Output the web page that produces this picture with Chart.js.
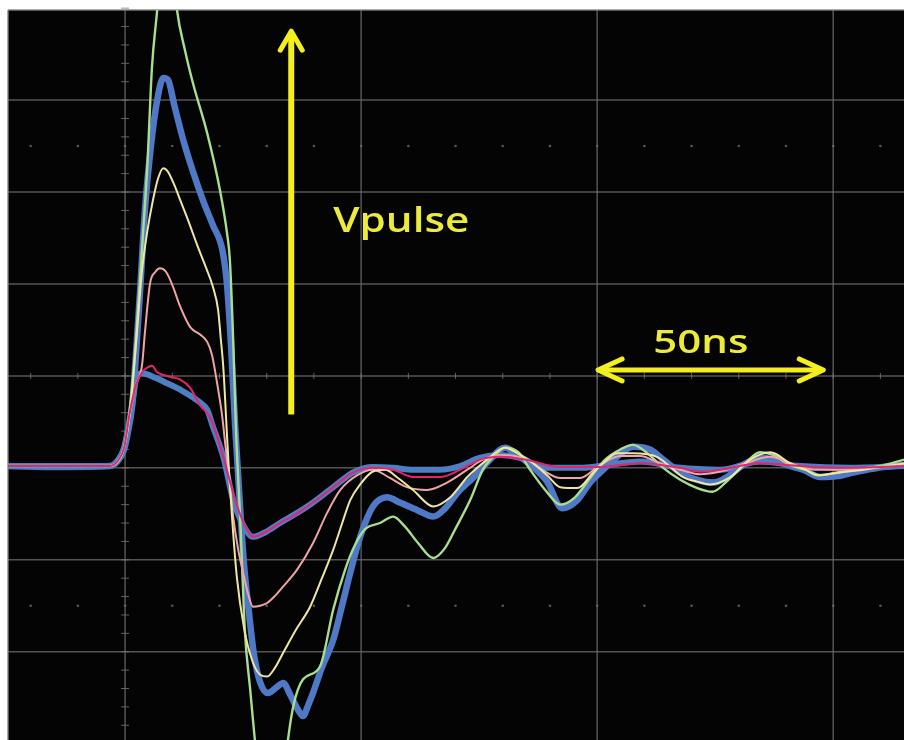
<!DOCTYPE html>
<html><head><meta charset="utf-8">
<script src="https://cdn.jsdelivr.net/npm/chart.js@4.4.1/dist/chart.umd.min.js"></script>
<style>html,body{margin:0;padding:0;background:#fff;}canvas{display:block;}</style>
</head><body>
<canvas id="c" width="904" height="740"></canvas>
<script>
// ---- Data: time in ns, amplitude in screen divisions ----
const bigBlueT = [-24.8,-13.8,-3.2,-1.5,-0.2,0.6,1.5,2.3,3.2,4.2,5.5,6.8,8.1,9.1,10.4,12.3,14.4,16.5,18.6,20.6,21.6,22.5,23.3,24.2,25.2,26.3,27.3,28.6,30.3,32.0,33.5,35.0,36.4,37.7,38.8,39.8,41.7,44.1,46.0,47.7,49.8,52.5,55.5,58.3,61.9,65.3,67.8,70.6,73.7,77.3,80.5,83.1,86.4,89.4,92.6,95.8,98.5,101.3,104.2,107.6,111.2,114.0,117.6,121.2,124.6,127.5,130.9,134.5,137.3,140.3,143.6,147.3,150.9,154.2,157.2,160.6,165.0];
const bigBlueV = [-0.98,-0.99,-0.98,-0.92,-0.80,-0.61,-0.32,0.23,0.94,1.80,2.51,3.00,3.24,3.22,2.95,2.57,2.22,1.91,1.64,1.37,0.99,0.28,-0.53,-1.29,-2.05,-2.60,-3.03,-3.33,-3.45,-3.39,-3.34,-3.47,-3.61,-3.70,-3.58,-3.45,-3.17,-2.87,-2.49,-2.14,-1.75,-1.42,-1.32,-1.38,-1.46,-1.53,-1.44,-1.26,-1.11,-0.91,-0.78,-0.86,-0.99,-1.15,-1.44,-1.35,-1.16,-1.02,-0.88,-0.77,-0.80,-0.91,-1.05,-1.13,-1.16,-1.10,-0.97,-0.89,-0.91,-0.97,-1.02,-1.10,-1.09,-1.05,-1.02,-0.99,-0.97];

const smallBlueT = [-24.8,-3.2,-1.5,-0.2,0.6,1.5,2.5,3.6,6.4,8.9,11.7,15.9,17.4,18.6,20.8,22.9,25.0,27.1,29.7,32.8,38.6,44.1,48.3,52.5,56.8,61.0,66.7,71.0,75.2,79.4,83.7,89.0,96.4,100.6,109.1,117.6,126.1,134.5,143.0,153.6,165.0];
const smallBlueV = [-0.98,-0.98,-0.92,-0.78,-0.59,-0.32,0.00,0.03,-0.02,-0.08,-0.15,-0.29,-0.37,-0.55,-0.88,-1.35,-1.62,-1.75,-1.70,-1.60,-1.42,-1.21,-1.05,-0.99,-1.00,-1.02,-1.02,-0.98,-0.89,-0.86,-0.89,-1.00,-1.00,-0.98,-0.93,-1.00,-1.02,-0.93,-0.98,-1.00,-0.98];

const greenT = [-24.8,-3.2,-1.5,-0.2,1.1,2.3,3.8,4.7,5.7,6.8,7.8,8.9,10.0,11.0,12.7,14.4,17.4,20.1,21.6,22.2,22.9,23.5,24.4,25.4,26.5,27.5,29.0,31.1,33.3,34.5,35.6,37.7,41.3,44.1,46.6,48.7,50.8,54.0,56.8,59.3,62.1,65.3,67.8,69.9,73.1,75.8,78.4,80.5,83.3,85.8,89.0,92.2,95.3,98.5,101.7,104.9,107.6,110.6,114.0,117.6,121.2,124.4,127.8,131.4,134.5,137.3,140.9,144.1,147.2,150.8,154.7,160.0,165.0];
const greenV = [-0.98,-0.98,-0.93,-0.77,-0.32,0.39,1.55,2.27,3.36,3.98,4.63,4.96,4.52,3.98,3.54,3.18,2.64,2.02,1.55,1.26,0.39,-0.59,-1.57,-2.79,-3.41,-3.96,-4.61,-5.04,-4.50,-3.96,-3.60,-3.30,-3.16,-2.54,-2.11,-1.84,-1.67,-1.60,-1.53,-1.64,-1.82,-1.98,-1.87,-1.67,-1.35,-1.02,-0.86,-0.78,-0.83,-1.02,-1.24,-1.40,-1.32,-1.11,-0.91,-0.80,-0.75,-0.84,-1.00,-1.13,-1.22,-1.26,-1.13,-0.95,-0.83,-0.86,-0.97,-1.02,-1.08,-1.05,-1.02,-0.98,-0.91];

const yellowT = [-24.8,-3.2,-1.5,-0.2,1.1,2.3,3.6,4.7,5.9,7.0,8.1,9.1,10.4,11.7,13.3,15.3,16.9,18.6,19.7,20.3,20.8,21.2,21.6,22.0,22.7,23.7,25.2,26.9,28.6,30.1,31.8,33.5,36.2,39.2,41.7,44.1,46.0,47.7,49.8,52.5,55.1,57.8,61.0,65.3,68.9,72.5,76.7,80.5,83.7,86.4,89.4,92.2,95.8,99.2,101.7,104.2,107.6,112.7,115.5,118.2,121.2,123.9,128.2,132.4,136.7,140.9,144.1,146.6,151.5,156.4,165.0];
const yellowV = [-0.98,-0.98,-0.92,-0.78,-0.37,0.34,1.15,1.57,1.91,2.15,2.26,2.22,2.08,1.91,1.70,1.42,1.21,0.97,0.72,0.39,0.10,-0.26,-0.66,-1.02,-1.57,-2.20,-2.74,-3.09,-3.25,-3.27,-3.17,-3.01,-2.76,-2.51,-2.20,-1.89,-1.60,-1.35,-1.18,-1.04,-1.02,-1.11,-1.24,-1.42,-1.32,-1.10,-0.91,-0.78,-0.86,-0.95,-1.08,-1.21,-1.22,-1.05,-0.93,-0.84,-0.84,-0.88,-0.99,-1.10,-1.15,-1.18,-1.10,-0.91,-0.83,-0.95,-1.02,-1.08,-1.05,-1.02,-0.95];

const pinkT = [-24.8,-3.2,-1.5,-0.2,1.1,2.3,3.6,4.2,5.3,6.4,7.4,8.7,10.0,11.7,13.8,15.9,17.4,18.4,19.5,20.6,21.2,21.8,22.9,23.9,25.0,26.1,27.1,28.6,30.1,31.8,33.5,36.4,39.8,42.8,45.6,49.2,52.5,56.1,59.7,64.0,68.2,72.5,75.8,79.4,82.6,85.8,89.0,92.2,96.4,100.6,104.9,109.1,113.3,117.6,121.8,126.1,131.4,136.7,140.9,146.2,151.5,160.0,165.0];
const pinkV = [-0.98,-0.98,-0.92,-0.78,-0.39,-0.10,0.12,0.47,1.01,1.13,1.17,1.13,0.99,0.75,0.53,0.45,0.37,0.23,-0.08,-0.45,-0.73,-0.99,-1.53,-1.87,-2.14,-2.38,-2.51,-2.50,-2.47,-2.39,-2.29,-2.11,-1.82,-1.49,-1.24,-1.08,-1.02,-1.11,-1.21,-1.24,-1.16,-1.02,-0.91,-0.86,-0.87,-0.93,-1.04,-1.11,-1.11,-0.97,-0.87,-0.87,-0.95,-1.02,-1.07,-1.04,-0.95,-0.88,-0.95,-1.02,-1.02,-0.99,-0.97];

const magentaT = [-24.8,-3.2,-1.5,-0.2,1.1,2.3,3.6,4.7,5.7,6.8,8.1,9.5,11.7,13.8,15.9,18.0,19.5,21.2,22.7,24.4,25.8,27.1,29.7,32.8,36.0,38.6,41.3,44.1,48.3,52.5,56.8,61.0,66.7,71.0,75.2,79.4,84.7,92.2,100.6,109.1,117.6,121.8,126.1,134.5,143.0,153.6,165.0];
const magentaV = [-0.98,-0.98,-0.92,-0.78,-0.37,-0.10,0.04,0.09,0.11,0.04,0.01,-0.01,-0.04,-0.13,-0.32,-0.45,-0.66,-0.95,-1.24,-1.51,-1.67,-1.75,-1.70,-1.60,-1.51,-1.42,-1.32,-1.21,-1.05,-1.00,-1.02,-1.10,-1.10,-1.02,-0.91,-0.88,-0.91,-0.99,-0.99,-0.95,-1.00,-1.04,-1.02,-0.95,-0.98,-1.00,-0.98];

// ---- Axis frame (ns / divisions) ----
const timeMin = -24.8, timeMax = 165.0;
const divMin = -3.96, divMax = 3.98;
const majorTimes = [0, 50, 100, 150];
const majorDivs = [-3, -2, -1, 0, 1, 2, 3];
const dottedRows = [-2.5, 2.5];

// ---- Annotations (in data units) ----
const pulseArrow = {t: 35.2, from: -0.42, to: 3.75};
const spanArrow = {v: 0.065, from: 100.2, to: 147.9};
const labelPulse = {text: 'Vpulse', t: 44.1, v: 1.57};
const labelSpan = {text: '50ns', t: 111.9, v: 0.25};

const toXY = (ts, vs) => ts.map((t, i) => ({x: t, y: vs[i]}));

const scopeGrid = {
  id: 'scopeGrid',
  beforeDatasetsDraw(chart) {
    const {ctx, chartArea: a, scales: {x, y}} = chart;
    ctx.save();
    ctx.fillStyle = '#040404';
    ctx.fillRect(a.left, a.top, a.right - a.left, a.bottom - a.top);
    ctx.strokeStyle = 'rgba(105,105,105,0.8)';
    ctx.lineWidth = 1.5;
    const ln = (x1, y1, x2, y2) => { ctx.beginPath(); ctx.moveTo(x1, y1); ctx.lineTo(x2, y2); ctx.stroke(); };
    majorTimes.forEach(t => { const p = x.getPixelForValue(t); ln(p, a.top, p, a.bottom); });
    majorDivs.forEach(v => { const p = y.getPixelForValue(v); ln(a.left, p, a.right, p); });
    // ticks on the centre axes
    ctx.lineWidth = 1;
    ctx.strokeStyle = 'rgba(120,120,120,0.8)';
    const x0 = x.getPixelForValue(0), y0 = y.getPixelForValue(0);
    for (let v = -4; v <= 4.001; v += 0.2) { const p = y.getPixelForValue(v); ln(x0 - 4, p, x0 + 4, p); }
    for (let t = -20; t <= 165; t += 10) { const p = x.getPixelForValue(t); ln(p, y0 - 3, p, y0 + 3); }
    // dotted rows
    ctx.fillStyle = 'rgba(110,110,110,0.8)';
    dottedRows.forEach(v => {
      const p = y.getPixelForValue(v);
      for (let t = -20; t <= 165; t += 10) { ctx.beginPath(); ctx.arc(x.getPixelForValue(t), p, 1.3, 0, Math.PI * 2); ctx.fill(); }
    });
    // frame edge
    ctx.strokeStyle = 'rgba(130,130,130,0.9)';
    ctx.lineWidth = 1.5;
    ln(a.left, a.top, a.right, a.top);
    ln(a.left, a.top, a.left, a.bottom);
    ctx.restore();
  }
};

const annotations = {
  id: 'annotations',
  afterDatasetsDraw(chart) {
    const {ctx, scales: {x, y}} = chart;
    const yellow = '#f3ee1c';
    ctx.save();
    ctx.strokeStyle = yellow;
    ctx.lineCap = 'round';
    ctx.lineJoin = 'round';
    const ln = (x1, y1, x2, y2) => { ctx.beginPath(); ctx.moveTo(x1, y1); ctx.lineTo(x2, y2); ctx.stroke(); };
    // vertical arrow
    const ax = x.getPixelForValue(pulseArrow.t);
    const yb = y.getPixelForValue(pulseArrow.from), yt = y.getPixelForValue(pulseArrow.to);
    ctx.lineWidth = 6; ctx.lineCap = 'butt';
    ln(ax, yb, ax, yt + 4);
    ctx.lineCap = 'round';
    ctx.lineWidth = 5;
    ctx.beginPath(); ctx.moveTo(ax - 11, yt + 19); ctx.lineTo(ax, yt); ctx.lineTo(ax + 11, yt + 19); ctx.stroke();
    // horizontal double arrow
    const hy = y.getPixelForValue(spanArrow.v);
    const hl = x.getPixelForValue(spanArrow.from), hr = x.getPixelForValue(spanArrow.to);
    ctx.lineWidth = 5;
    ln(hl + 3, hy, hr - 3, hy);
    ctx.beginPath(); ctx.moveTo(hl + 24, hy - 11); ctx.lineTo(hl, hy); ctx.lineTo(hl + 24, hy + 11); ctx.stroke();
    ctx.beginPath(); ctx.moveTo(hr - 24, hy - 11); ctx.lineTo(hr, hy); ctx.lineTo(hr - 24, hy + 11); ctx.stroke();
    // labels
    const txt = (lab, size, width) => {
      ctx.font = `600 ${size}px "Open Sans", "DejaVu Sans", sans-serif`;
      const w = ctx.measureText(lab.text).width;
      ctx.save();
      ctx.translate(x.getPixelForValue(lab.t), y.getPixelForValue(lab.v));
      ctx.scale(width / w, 1);
      ctx.fillStyle = '#ecea3a';
      ctx.textBaseline = 'alphabetic';
      ctx.textAlign = 'left';
      ctx.fillText(lab.text, 0, 0);
      ctx.restore();
    };
    txt(labelPulse, 34, 136);
    txt(labelSpan, 32, 95);
    ctx.restore();
  }
};

const thin = (label, ts, vs, color, w) => ({
  label, data: toXY(ts, vs), borderColor: color, borderWidth: w,
  pointRadius: 0, cubicInterpolationMode: 'monotone', fill: false
});

new Chart(document.getElementById('c'), {
  type: 'line',
  data: {
    datasets: [
      thin('magenta', magentaT, magentaV, '#e3246f', 2),
      thin('yellow', yellowT, yellowV, '#efe6a2', 2),
      thin('pink', pinkT, pinkV, '#f0a4a6', 2),
      thin('green', greenT, greenV, '#a9de8e', 2.4),
      thin('blue small', smallBlueT, smallBlueV, '#4d7fc4', 6),
      thin('blue large', bigBlueT, bigBlueV, '#4f78c6', 6.5)
    ]
  },
  options: {
    responsive: false,
    animation: false,
    layout: {padding: {left: 8, top: 10, right: 0, bottom: 0}},
    scales: {
      x: {type: 'linear', min: timeMin, max: timeMax, display: false},
      y: {type: 'linear', min: divMin, max: divMax, display: false}
    },
    plugins: {legend: {display: false}, tooltip: {enabled: false}}
  },
  plugins: [scopeGrid, annotations]
});
</script>
</body></html>
